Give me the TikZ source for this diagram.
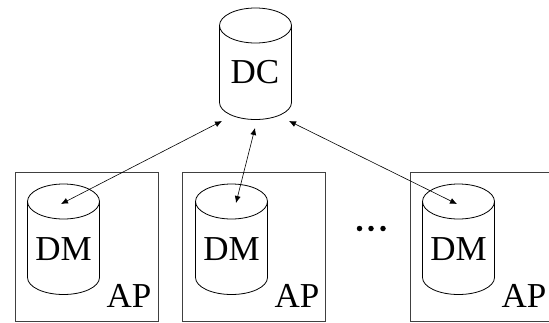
\documentclass[tikz,border=0pt]{standalone}
\usepackage{fontspec}
\setmainfont{Liberation Serif}
\usetikzlibrary{arrows.meta}
\tikzset{
  line/.style={draw=black,line width=0.8pt},
  apbox/.style={draw=black!75,line width=0.9pt},
  link/.style={draw=black,line width=0.6pt,{Latex[length=7pt,width=6pt]}-{Latex[length=7pt,width=6pt]}},
  lbl/.style={inner sep=0pt,font=\fontsize{35}{35}\selectfont},
  dots/.style={circle,fill=black,inner sep=0pt,minimum size=5.5pt}
}
\newcommand{\cyl}[3]{% center x, top ellipse centre y, side height
  \draw[line] (#1-36,#2) arc[x radius=36pt,y radius=17.5pt,start angle=180,end angle=540];
  \draw[line] (#1-36,#2) -- (#1-36,#2+#3) arc[x radius=36pt,y radius=17pt,start angle=180,end angle=360]
    -- (#1+36,#2);
}
\begin{document}
\begin{tikzpicture}[x=1pt,y=-1pt]
\useasboundingbox (0,0) rectangle (549,322);
\draw[apbox] (15,172) rectangle (158,321);
\draw[apbox] (182,172) rectangle (325,321);
\draw[apbox] (549,172) -- (410,172) -- (410,321) -- (549,321);
\cyl{255.5}{25.5}{77}
\cyl{63.5}{201.5}{76}
\cyl{231.5}{201.5}{76}
\cyl{458.5}{201.5}{76}
\node[lbl] (dc) at (255,72) {DC};
\node[lbl] (dm1) at (63.5,249) {DM};
\node[lbl] (dm2) at (231.5,249) {DM};
\node[lbl] (dm3) at (458.5,249) {DM};
\node[lbl] (ap1) at (129,296) {AP};
\node[lbl] (ap2) at (297,296) {AP};
\node[lbl] (ap3) at (524,296) {AP};
\node[dots] (d1) at (359.5,228.5) {};
\node[dots] (d2) at (371,228.5) {};
\node[dots] (d3) at (383,228.5) {};
\coordinate (a1) at (222,121);
\coordinate (b1) at (61,204);
\coordinate (a2) at (255,128);
\coordinate (b2) at (236,203);
\coordinate (a3) at (289,121);
\coordinate (b3) at (457,204);
\draw[link] (a1) -- (b1);
\draw[link] (a2) -- (b2);
\draw[link] (a3) -- (b3);
\end{tikzpicture}
\end{document}
